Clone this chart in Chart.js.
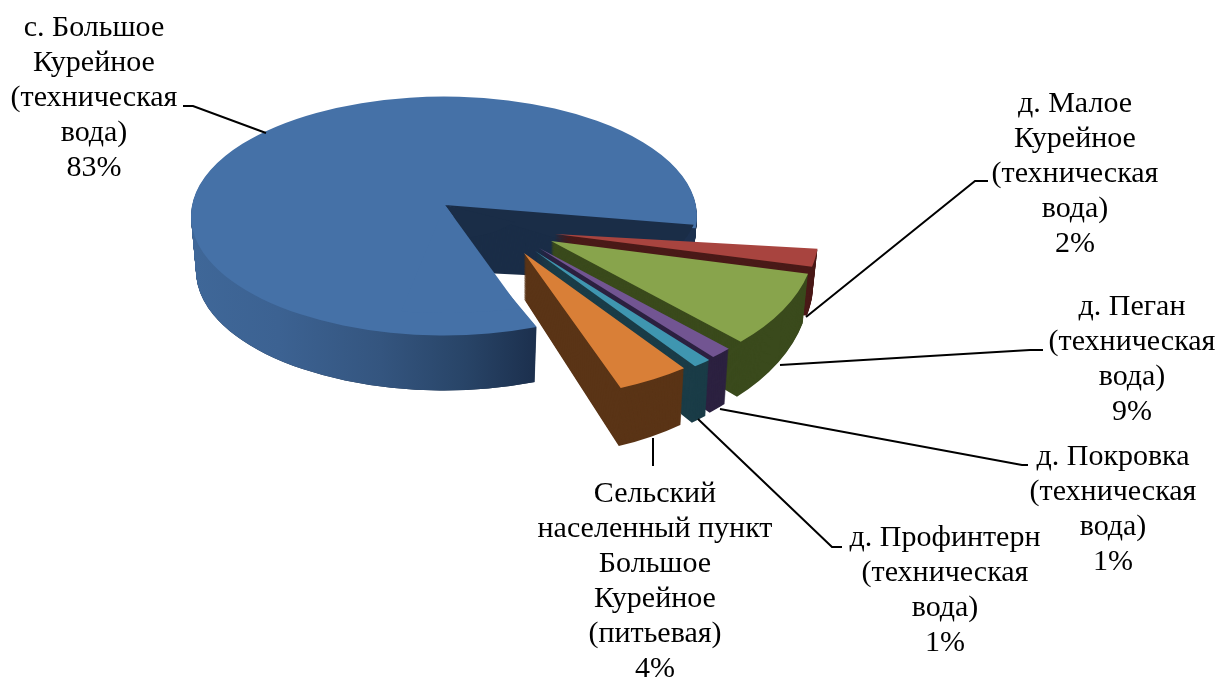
<!DOCTYPE html>
<html lang="ru">
<head>
<meta charset="utf-8">
<title>Водопотребление</title>
<script src="https://cdn.jsdelivr.net/npm/chart.js@4"></script>
<style>
  html, body { margin: 0; background: #fff; }
  canvas { display: block; }
</style>
</head>
<body>
<canvas id="pie" width="1220" height="679"></canvas>
<script>
// ── data ──
const categories = [
    'с. Большое\nКурейное\n(техническая\nвода)',
    'д. Малое\nКурейное\n(техническая\nвода)',
    'д. Пеган\n(техническая\nвода)',
    'д. Покровка\n(техническая\nвода)',
    'д. Профинтерн\n(техническая\nвода)',
    'Сельский\nнаселенный пункт\nБольшое\nКурейное\n(питьевая)'
];
const shares = [82.6, 2, 8.6, 1.3, 1.1, 4.4];

const topColors = ['#4571a7', '#a8443f', '#88a44c', '#725592', '#3f96b0', '#d97f37'];
const wallColors = ['#1a2d47', '#4a1a18', '#3a4a1c', '#2c2140', '#1a3c47', '#5a3416'];

// ── layout of the fake 3D view ──
const PIE_X = 444, PIE_Y = 216;
const MAIN_SY = 0.472;          // main slice squash
const PIECE_SX = 1.043, PIECE_SY = 0.573;   // pulled-out slices sit closer, so larger
const DEPTH = 55;
// how far each slice is pulled out from the pie centre
const pullX = [0, 111, 107, 95, 91, 80];
const pullY = [0, 18, 25, 32, 35, 37];
// perspective puts the tip of the gap above the ellipse centre
const TIP_X = 445, TIP_Y = 205, TIP_SY = 0.427;

const labelX = [94, 1075, 1132, 1113, 945, 655];
const labelY = [28, 104, 307, 457, 538, 494];
const LINE_H = 35;
const leaders = [
    [[183, 106], [193, 106], [266, 133]],
    [[806, 317], [975, 181], [988, 181]],
    [[780, 365], [1030, 350], [1043, 350]],
    [[720, 409], [1022, 465], [1028, 465]],
    [[698, 419], [832, 547], [842, 547]],
    [[653, 438], [653, 466]]
];

// same arc, other colour / inner radius - the library still does the path
function ghostArc(arc, color, innerRadius) {
    const g = Object.create(arc);
    g.options = Object.assign({}, arc.options, { backgroundColor: color });
    if (innerRadius) g.innerRadius = innerRadius;
    return g;
}

function paintLayer(ctx, arc, el, i, t) {
    const sx = (i === 0 ? 1 : PIECE_SX) * (1 - 0.02 * t);
    const sy = (i === 0 ? MAIN_SY : PIECE_SY) * (1 + (i === 0 ? 0 : 0.09) * t);
    ctx.save();
    ctx.translate(PIE_X + pullX[i], PIE_Y + pullY[i] + (i === 0 ? DEPTH : DEPTH - 9) * t);
    ctx.scale(sx, sy);
    ctx.translate(-arc.x, -arc.y);
    el.draw(ctx);
    ctx.restore();
}

// narrow sector from the raised tip, used to correct the edges of the gap
function tipPatch(ctx, arc, color, fromDeg, toDeg, radius) {
    const g = ghostArc(arc, color);
    g.startAngle = fromDeg * Math.PI / 180;
    g.endAngle = toDeg * Math.PI / 180;
    g.circumference = g.endAngle - g.startAngle;
    if (radius) g.outerRadius = radius;
    ctx.save();
    ctx.translate(TIP_X, TIP_Y);
    ctx.scale(1, TIP_SY);
    ctx.translate(-arc.x, -arc.y);
    g.draw(ctx);
    ctx.restore();
}

const fake3d = {
    id: 'fake3d',
    beforeDatasetsDraw(chart) {
        const ctx = chart.ctx;
        const arcs = chart.getDatasetMeta(0).data;
        arcs.forEach((arc, i) => {
            const wall = ghostArc(arc, wallColors[i]);
            for (let k = DEPTH; k > 0; k--) paintLayer(ctx, arc, wall, i, k / DEPTH);

            if (i === 0) {
                // rim of the big slice fades from mid blue to dark, inner wall stays flat
                const R = arc.outerRadius;
                const grad = ctx.createLinearGradient(arc.x - R, 0, arc.x + 0.36 * R, 0);
                grad.addColorStop(0, '#3f6798');
                grad.addColorStop(0.25, '#3c6292');
                grad.addColorStop(0.55, '#34557f');
                grad.addColorStop(0.8, '#284467');
                grad.addColorStop(1, '#1c304e');
                const rim = ghostArc(arc, grad, R * 0.8);
                for (let k = DEPTH; k > 0; k--) paintLayer(ctx, arc, rim, i, k / DEPTH);
            }
            paintLayer(ctx, arc, arc, i, 0);
            if (i === 0) {
                tipPatch(ctx, arc, wallColors[0], 10.6, 35);
                tipPatch(ctx, arc, wallColors[0], 30, 72.8, 80);
                tipPatch(ctx, arc, topColors[0], 72.8, 100);
            }
        });
        return false;   // default flat pie is not drawn
    },
    afterDraw(chart) {
        const ctx = chart.ctx;
        ctx.save();
        ctx.strokeStyle = '#000';
        ctx.lineWidth = 2;
        leaders.forEach(pts => {
            ctx.beginPath();
            pts.forEach((p, n) => n ? ctx.lineTo(p[0], p[1]) : ctx.moveTo(p[0], p[1]));
            ctx.stroke();
        });
        ctx.fillStyle = '#000';
        ctx.font = '30px "Liberation Serif"';
        ctx.textAlign = 'center';
        ctx.textBaseline = 'middle';
        categories.forEach((c, i) => {
            const lines = c.split('\n').concat(Math.round(shares[i]) + '%');
            lines.forEach((line, n) => ctx.fillText(line, labelX[i], labelY[i] + n * LINE_H));
        });
        ctx.restore();
    }
};

new Chart(document.getElementById('pie'), {
    type: 'pie',
    data: {
        labels: categories.map(c => c.replace(/\n/g, ' ')),
        datasets: [{ data: shares, backgroundColor: topColors, borderWidth: 0 }]
    },
    options: {
        responsive: false,
        animation: false,
        rotation: 158.5,
        layout: { padding: { left: 191, right: 523, top: 86, bottom: 87 } },
        plugins: { legend: { display: false }, tooltip: { enabled: false } }
    },
    plugins: [fake3d]
});
</script>
</body>
</html>
